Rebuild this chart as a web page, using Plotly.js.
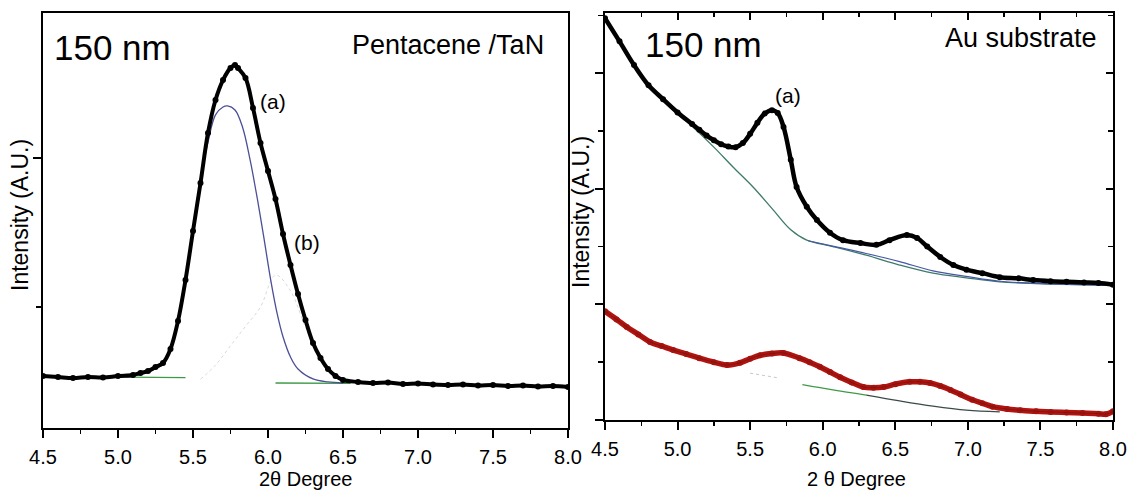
<!DOCTYPE html>
<html>
<head>
<meta charset="utf-8">
<script src="https://cdn.plot.ly/plotly-3.0.1.min.js"></script>
<style>html,body{margin:0;padding:0;background:#fff;}#chart{width:1134px;height:492px;}</style>
</head>
<body>
<div id="chart"></div>
<script>
// ---------- Left panel: Pentacene / TaN (intensity, arbitrary units x1000) ----------
const leftX = [4.5,4.6,4.7,4.8,4.9,5.0,5.1,5.15,5.2,5.25,5.3,5.35,5.4,5.45,5.5,5.55,5.6,5.65,5.7,5.75,5.78,5.8,5.85,5.9,5.95,6.0,6.05,6.1,6.15,6.2,6.25,6.3,6.35,6.4,6.45,6.5,6.6,6.7,6.8,6.9,7.0,7.1,7.2,7.3,7.4,7.5,7.6,7.7,7.8,7.9,8.0];
const leftY = [537,530,523,530,527,537,544,557,570,597,624,718,906,1181,1510,1832,2168,2389,2523,2604,2624,2604,2537,2336,2101,1913,1725,1490,1282,1087,913,758,658,584,537,510,497,490,493,483,486,480,477,480,474,477,470,473,467,470,463];
// fitted component (a)
const leftFitAX = [5.0,5.1,5.2,5.3,5.35,5.4,5.45,5.5,5.55,5.6,5.65,5.7,5.73,5.78,5.83,5.88,5.93,5.97,6.02,6.06,6.1,6.15,6.2,6.3,6.4,6.5];
const leftFitAY = [530,537,564,617,711,899,1174,1490,1852,2107,2289,2342,2349,2322,2208,1990,1720,1480,1170,960,800,664,584,517,497,490];
// fitted component (b)
const leftFitBX = [5.55,5.65,5.75,5.85,5.95,6.05,6.15,6.25,6.35,6.45];
const leftFitBY = [515,610,740,870,1000,1215,1108,863,643,532];
// baseline (drawn in two visible pieces)
const leftBaseX = [5.05,5.45,null,6.05,6.55];
const leftBaseY = [530,526,null,490,487];

// ---------- Right panel: Au substrate ----------
const rightUpX = [4.5,4.6,4.7,4.8,4.9,5.0,5.1,5.15,5.2,5.25,5.3,5.35,5.4,5.45,5.5,5.55,5.6,5.65,5.69,5.73,5.78,5.82,5.89,5.96,6.05,6.14,6.26,6.37,6.46,6.58,6.65,6.72,6.81,6.9,6.99,7.1,7.22,7.35,7.45,7.57,7.68,7.8,7.9,8.0];
const rightUpY = [6950,6550,6140,5790,5550,5320,5120,5020,4920,4840,4770,4730,4720,4790,4950,5140,5300,5360,5310,5070,4500,4030,3690,3460,3240,3110,3060,3030,3110,3200,3150,3000,2820,2680,2600,2540,2470,2450,2420,2400,2390,2380,2370,2340];
const rightUpBaseX = [4.5,4.7,4.9,5.1,5.25,5.38,5.52,5.66,5.78,5.89,6.07,6.3,6.53,6.76,6.99,7.22,7.5,8.0];
const rightUpBaseY = [6950,6150,5520,5080,4720,4380,4030,3630,3290,3110,3000,2850,2680,2540,2460,2390,2360,2330];
const rightUpBlueX = [5.9,6.1,6.3,6.53,6.76,7.0,7.22,7.5,8.0];
const rightUpBlueY = [3100,2990,2880,2740,2580,2480,2400,2360,2330];

const rightLowX = [4.5,4.58,4.65,4.73,4.81,4.89,4.97,5.06,5.15,5.25,5.34,5.43,5.5,5.57,5.65,5.73,5.84,5.91,5.98,6.05,6.12,6.2,6.28,6.35,6.42,6.5,6.6,6.67,6.74,6.81,6.88,6.95,7.03,7.1,7.17,7.27,7.36,7.47,7.57,7.68,7.79,7.9,7.95,8.0];
const rightLowY = [1880,1740,1610,1480,1350,1280,1210,1140,1070,1000,950,990,1060,1120,1150,1160,1070,1000,920,830,740,650,570,560,570,620,660,660,640,590,520,440,350,290,230,190,170,150,140,130,120,110,100,150];
const rightLowBaseGX = [5.86,6.07,6.3];
const rightLowBaseGY = [610,520,430];
const rightLowBaseDX = [6.3,6.53,6.76,6.99,7.22];
const rightLowBaseDY = [430,330,240,170,140];
const rightLowFaintX = [5.5,5.6,5.69];
const rightLowFaintY = [810,770,730];

const tickVals = [4.5,5.0,5.5,6.0,6.5,7.0,7.5,8.0];

const FONT = 'Liberation Sans, Arial, sans-serif';
const W = 1134, H = 492;
const px = v => v / W;
const py = v => 1 - v / H;

const traces = [
  // left
  {x: leftBaseX, y: leftBaseY, xaxis:'x', yaxis:'y', mode:'lines', line:{color:'#3c9a45', width:1.3}, hoverinfo:'skip'},
  {x: leftFitBX, y: leftFitBY, xaxis:'x', yaxis:'y', mode:'lines', line:{color:'#d9d9d9', width:1, dash:'dot', shape:'spline'}, hoverinfo:'skip'},
  {x: leftFitAX, y: leftFitAY, xaxis:'x', yaxis:'y', mode:'lines', line:{color:'#4b4f96', width:1.3, shape:'spline'}, hoverinfo:'skip'},
  {x: leftX, y: leftY, xaxis:'x', yaxis:'y', mode:'lines+markers', line:{color:'#000', width:4, shape:'spline'}, marker:{color:'#000', size:6}},
  // right upper
  {x: rightUpBaseX, y: rightUpBaseY, xaxis:'x2', yaxis:'y2', mode:'lines', line:{color:'#3d7a6c', width:1.3, shape:'spline'}, hoverinfo:'skip'},
  {x: rightUpBlueX, y: rightUpBlueY, xaxis:'x2', yaxis:'y2', mode:'lines', line:{color:'#4657a3', width:1.2, shape:'spline'}, hoverinfo:'skip'},
  {x: rightUpX, y: rightUpY, xaxis:'x2', yaxis:'y2', mode:'lines+markers', line:{color:'#000', width:4.5, shape:'spline'}, marker:{color:'#000', size:6}},
  // right lower
  {x: rightLowFaintX, y: rightLowFaintY, xaxis:'x2', yaxis:'y2', mode:'lines', line:{color:'#c8c8c8', width:1, dash:'dot'}, hoverinfo:'skip'},
  {x: rightLowBaseGX, y: rightLowBaseGY, xaxis:'x2', yaxis:'y2', mode:'lines', line:{color:'#3f9a48', width:1.3, shape:'spline'}, hoverinfo:'skip'},
  {x: rightLowBaseDX, y: rightLowBaseDY, xaxis:'x2', yaxis:'y2', mode:'lines', line:{color:'#3c4a4a', width:1.2, shape:'spline'}, hoverinfo:'skip'},
  {x: rightLowX, y: rightLowY, xaxis:'x2', yaxis:'y2', mode:'lines+markers', line:{color:'#b3140f', width:5.5, shape:'spline'}, marker:{color:'#a8120e', size:6}},
  {x: rightLowX, y: rightLowY, xaxis:'x2', yaxis:'y2', mode:'lines', line:{color:'#3a1a1a', width:0.8, shape:'spline'}, opacity:0.5, hoverinfo:'skip'},
  // empty trace to carry the inner tick axes of the right panel
  {x: [], y: [], xaxis:'x3', yaxis:'y3', mode:'markers', hoverinfo:'skip'}
];

const baseX = {
  range:[4.5,8.0], tickmode:'array', tickvals: tickVals, ticktext: tickVals.map(v=>v.toFixed(1)),
  ticks:'outside', ticklen:8, tickwidth:2, tickcolor:'#000', ticklabelstandoff:2,
  minor:{tickmode:'linear', tick0:4.5, dtick:0.25, ticks:'outside', ticklen:4, tickwidth:1.5, tickcolor:'#000', showgrid:false},
  showline:true, linecolor:'#000', linewidth:2, mirror:true,
  showgrid:false, zeroline:false, tickfont:{family:FONT, size:20, color:'#000'}, fixedrange:true
};
const baseY = {
  tickmode:'linear', tick0:0, dtick:2000,
  ticks:'outside', ticklen:8, tickwidth:2, tickcolor:'#000',
  minor:{tickmode:'linear', tick0:0, dtick:1000, ticks:'outside', ticklen:5, tickwidth:1.5, tickcolor:'#000', showgrid:false},
  showticklabels:false, showline:true, linecolor:'#000', linewidth:2, mirror:true,
  showgrid:false, zeroline:false, fixedrange:true
};

const ann = (text, x, y, size, xanchor, extra) => Object.assign({
  text, x: px(x), y: py(y), xref:'paper', yref:'paper', showarrow:false,
  xanchor: xanchor || 'center', yanchor:'middle', font:{family:FONT, size, color:'#000'}
}, extra || {});

const layout = {
  width: W, height: H,
  margin:{l:0, r:0, t:0, b:0},
  paper_bgcolor:'#fff', plot_bgcolor:'#fff',
  showlegend:false,
  xaxis: Object.assign({}, baseX, {domain:[px(43), px(568)], anchor:'y'}),
  yaxis: Object.assign({}, baseY, {domain:[1-428/H, 1-13/H], range:[188,2973], anchor:'x'}),
  xaxis2: Object.assign({}, baseX, {domain:[px(605), px(1113)], anchor:'y2'}),
  yaxis2: Object.assign({}, baseY, {domain:[1-420/H, 1-13/H], range:[0,7040], anchor:'x2'}),
  xaxis3: {overlaying:'x2', anchor:'y2', side:'top', range:[4.5,8.0], tickmode:'linear', tick0:4.5, dtick:0.5,
           ticks:'inside', ticklen:7, tickwidth:2, tickcolor:'#000',
           minor:{tickmode:'linear', tick0:4.5, dtick:0.25, ticks:'inside', ticklen:4, tickwidth:1.5, tickcolor:'#000', showgrid:false},
           showticklabels:false, showline:false, showgrid:false, zeroline:false, fixedrange:true},
  yaxis3: {overlaying:'y2', anchor:'x2', side:'right', range:[0,7040], tickmode:'linear', tick0:0, dtick:2000,
           ticks:'inside', ticklen:7, tickwidth:2, tickcolor:'#000',
           minor:{tickmode:'linear', tick0:0, dtick:1000, ticks:'inside', ticklen:5, tickwidth:1.5, tickcolor:'#000', showgrid:false},
           showticklabels:false, showline:false, showgrid:false, zeroline:false, fixedrange:true},
  annotations: [
    ann('150 nm', 52, 47, 35, 'left'),
    ann('Pentacene /TaN', 546, 45, 27, 'right'),
    ann('(a)', 273, 101, 21),
    ann('(b)', 307, 242, 21),
    ann('2θ Degree', 305, 479, 20),
    ann('Intensity (A.U.)', 20, 215, 23, 'center', {textangle:-90}),
    ann('150 nm', 643, 45, 35, 'left'),
    ann('Au substrate', 1099, 38, 27, 'right'),
    ann('(a)', 788, 96, 21),
    ann('2 θ Degree', 856, 479, 20),
    ann('Intensity (A.U.)', 581, 212, 23, 'center', {textangle:-90})
  ]
};

Plotly.newPlot('chart', traces, layout, {displayModeBar:false, staticPlot:true});
</script>
</body>
</html>
